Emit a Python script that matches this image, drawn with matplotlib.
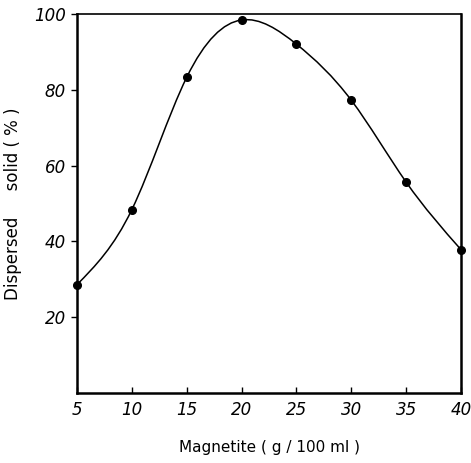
#!/usr/bin/env python3
"""Dispersed solid vs magnetite concentration (smooth curve through measurements)."""

import matplotlib

matplotlib.use("Agg")
import matplotlib.pyplot as plt
import numpy as np
from matplotlib.patches import PathPatch
from matplotlib.path import Path

# magnetite concentration (g / 100 ml)
magnetite = [5, 10, 15, 20, 25, 30, 35, 40]
# dispersed solid (%)
dispersed = [28.6, 48.4, 83.3, 98.4, 92.0, 77.2, 55.6, 37.8]

x_ticks = [5, 10, 15, 20, 25, 30, 35, 40]
y_ticks = [20, 40, 60, 80, 100]


def spline_path(xs, ys):
    """Natural cubic spline through the points, written as exact Bezier segments."""
    x = np.asarray(xs, float)
    y = np.asarray(ys, float)
    n = len(x)
    h = np.diff(x)
    # second derivatives (natural ends)
    A = np.zeros((n, n))
    b = np.zeros(n)
    A[0, 0] = A[-1, -1] = 1.0
    for i in range(1, n - 1):
        A[i, i - 1] = h[i - 1]
        A[i, i] = 2 * (h[i - 1] + h[i])
        A[i, i + 1] = h[i]
        b[i] = 6 * ((y[i + 1] - y[i]) / h[i] - (y[i] - y[i - 1]) / h[i - 1])
    M = np.linalg.solve(A, b)
    slopes = np.empty(n)
    for i in range(n - 1):
        slopes[i] = (y[i + 1] - y[i]) / h[i] - h[i] * (2 * M[i] + M[i + 1]) / 6
    slopes[-1] = (y[-1] - y[-2]) / h[-1] + h[-1] * (M[-2] + 2 * M[-1]) / 6

    verts = [(x[0], y[0])]
    codes = [Path.MOVETO]
    for i in range(n - 1):
        d = h[i] / 3
        verts += [(x[i] + d, y[i] + slopes[i] * d),
                  (x[i + 1] - d, y[i + 1] - slopes[i + 1] * d),
                  (x[i + 1], y[i + 1])]
        codes += [Path.CURVE4] * 3
    return Path(verts, codes)


fig = plt.figure(figsize=(4.71, 4.63), dpi=100)
ax = fig.add_axes([0.1635, 0.151, 0.8155, 0.819])

ax.add_patch(PathPatch(spline_path(magnetite, dispersed), facecolor="none",
                       edgecolor="black", lw=1.1, clip_on=False))
ax.plot(magnetite, dispersed, "o", color="black", markersize=5.5, clip_on=False, zorder=3)

ax.set_xlim(5, 40)
ax.set_ylim(0, 100)
ax.set_xticks(x_ticks)
ax.set_yticks(y_ticks)
ax.set_xticklabels([str(v) for v in x_ticks], fontstyle="italic", fontsize=12)
ax.set_yticklabels([str(v) for v in y_ticks], fontstyle="italic", fontsize=12)
ax.tick_params(axis="x", direction="in", length=4, width=1, pad=6)
ax.tick_params(axis="y", direction="out", length=4, width=1, pad=4)

for side in ["left", "bottom", "right"]:
    ax.spines[side].set_linewidth(1.8)
ax.spines["top"].set_linewidth(1.2)

ax.set_xlabel("Magnetite ( g / 100 ml )", fontsize=11, labelpad=15)
ax.set_ylabel("Dispersed     solid ( % )", fontsize=12, labelpad=9)

plt.savefig("out.png", dpi=100)
plt.close()
